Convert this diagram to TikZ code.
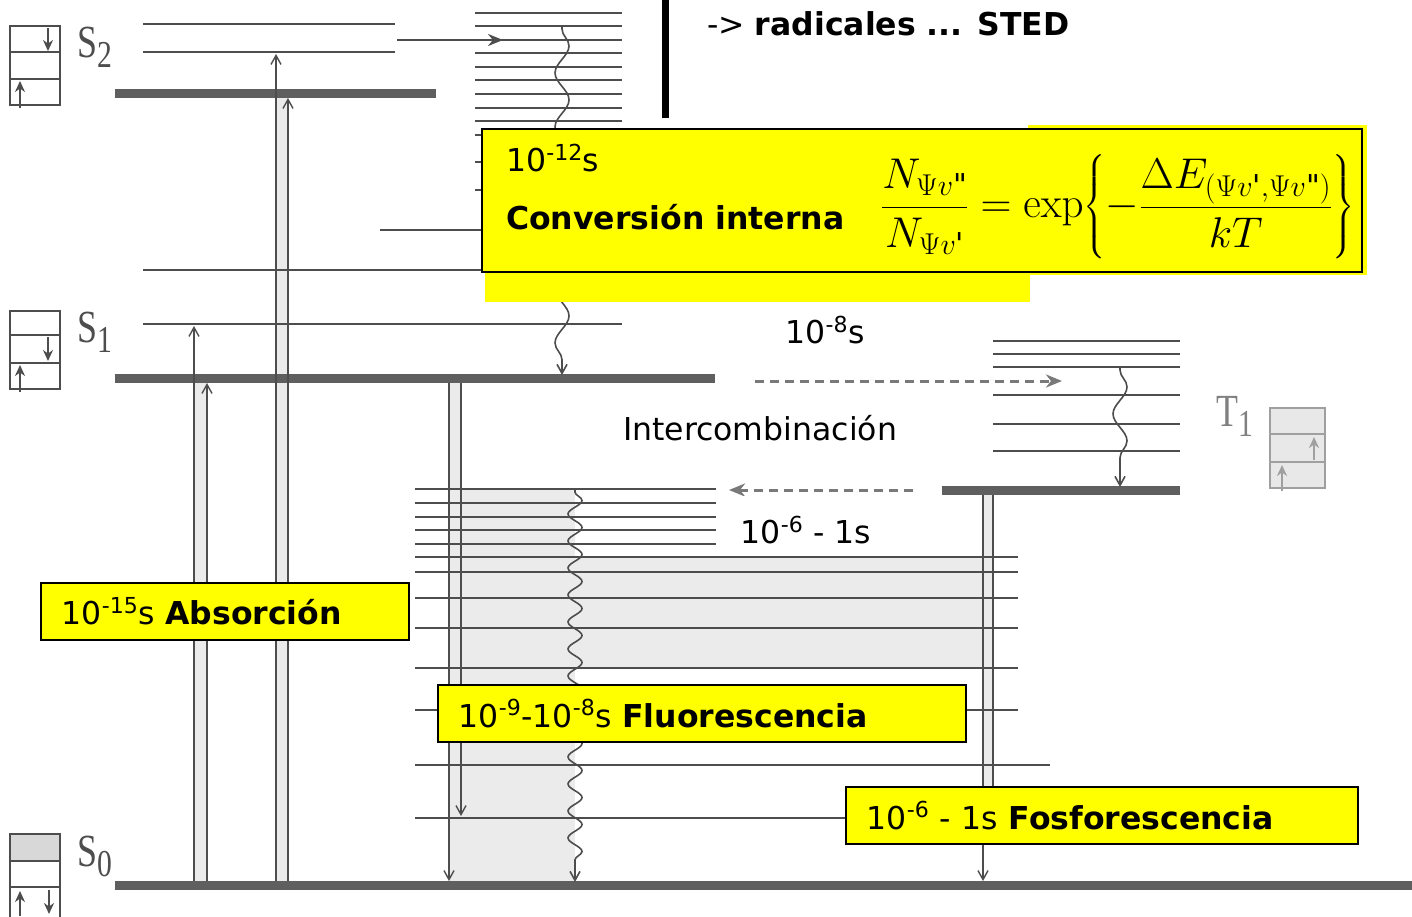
\documentclass[tikz,border=0pt]{standalone}
\usepackage{fix-cm}
\usepackage{amsmath}
\usepackage[no-math]{fontspec}
\setmainfont{DejaVu Sans}
\newfontfamily\serf{Liberation Serif}
\usetikzlibrary{arrows.meta,decorations.pathmorphing}
\definecolor{ink}{HTML}{4D4D4D}
\definecolor{bandgrey}{HTML}{EBEBEB}
\definecolor{hilite}{HTML}{FFFF00}
\newcommand{\state}[2]{\scalebox{0.78}[1]{\serf\fontsize{46}{46}\selectfont #1\raisebox{-10pt}{\fontsize{38}{38}\selectfont #2}}}
\tikzset{
  lv/.style={draw=ink,line width=2pt},
  gnd/.style={draw=ink!90,line width=9pt},
  band/.style={fill=bandgrey},
  tr/.style={draw=ink,line width=1.4pt,-{Straight Barb[length=9pt,width=10pt]}},
  wav/.style={draw=ink,line width=1.6pt,-{Straight Barb[length=9pt,width=10pt]},decorate,
    decoration={snake,segment length=#1,amplitude=7pt,pre length=2pt,post length=9pt}},
  wav/.default=27pt,
  isc/.style={draw=ink!75,line width=3pt,dash pattern=on 9pt off 6pt,
    -{Stealth[length=16pt,width=13pt,inset=5pt]}},
  spin/.style={draw=ink,line width=2pt},
  sarr/.style={draw=ink,line width=1.8pt,-{Stealth[length=11pt,width=10pt]}},
  hl/.style={draw=black,fill=hilite,line width=1.8pt,anchor=north west,align=left,
    inner xsep=21pt,inner ysep=0pt,minimum height=57pt,font=\fontsize{31.5}{36}\selectfont},
  txt/.style={font=\fontsize{31.5}{36}\selectfont,inner sep=0pt},
}

\begin{document}
\begin{tikzpicture}[x=1pt,y=-1pt]
  \useasboundingbox (0,0) rectangle (1412,916);
  \fill[white] (0,0) rectangle (1412,916);
  % grey bands of the scan
  \path[band] (194,382) rectangle (207,885);
  \path[band] (276,97) rectangle (288,885);
  \path[band] (449,382) rectangle (461,489);
  \path[band] (449,489) rectangle (575,885);
  \path[band] (575,557) rectangle (985,668);
  \path[band] (983,494) rectangle (993,790);
  % vibrational levels
  \foreach \y in {24,52} \draw[lv] (143,\y) -- (395,\y);
  \foreach \y in {13,26,40,53,67,80,94,108,121,135,162,190} \draw[lv] (475,\y) -- (622,\y);
  \draw[lv] (380,230) -- (482,230);
  \draw[lv] (143,270) -- (482,270);
  \draw[lv] (143,324) -- (622,324);
  \foreach \y in {489,503,517,530,544} \draw[lv] (415,\y) -- (716,\y);
  \foreach \y in {557,572,598,628,668,710} \draw[lv] (415,\y) -- (1018,\y);
  \draw[lv] (415,765) -- (1050,765);
  \draw[lv] (415,818) -- (845,818);
  \foreach \y in {341,354,367,395,424,451} \draw[lv] (993,\y) -- (1180,\y);
  % electronic ground levels
  \draw[gnd] (115,93) -- (436,93);
  \draw[gnd] (115,378) -- (715,378);
  \draw[gnd] (942,490) -- (1180,490);
  \draw[gnd] (115,885) -- (1412,885);
  % radiative transitions
  \draw[tr] (194,881) -- (194,326);
  \draw[tr] (207,881) -- (207,383);
  \draw[tr] (276,881) -- (276,54);
  \draw[tr] (288,881) -- (288,98);
  \draw[tr] (449,383) -- (449,881);
  \draw[tr] (461,383) -- (461,816);
  \draw[tr] (983,495) -- (983,881);
  \draw[draw=ink,line width=1.4pt] (993,495) -- (993,790);
  \draw[draw=ink,line width=2.5pt,-{Stealth[length=15pt,width=12pt]}] (397,40) -- (503,40);
  % non radiative relaxation
  \draw[wav=54pt] (562,27) -- (562,375);
  \draw[wav] (575,490) -- (575,882);
  \draw[wav=54pt] (1120,368) -- (1120,487);
  \draw[isc] (755,381) -- (1062,381);
  \draw[isc] (913,490) -- (729,490);
  % spin boxes
  \draw[spin] (10,26) rectangle (60,105) (10,52) -- (60,52) (10,79) -- (60,79);
  \draw[sarr] (48,28) -- (48,51);
  \draw[sarr] (20,108) -- (20,81);
  \draw[spin] (10,311) rectangle (60,389) (10,335) -- (60,335) (10,363) -- (60,363);
  \draw[sarr] (48,337) -- (48,361);
  \draw[sarr] (20,392) -- (20,365);
  \fill[bandgrey!92!black] (10,834) rectangle (60,861);
  \draw[spin] (10,920) -- (10,834) -- (60,834) -- (60,920) (10,861) -- (60,861) (10,887) -- (60,887);
  \draw[sarr] (20,916) -- (20,891);
  \draw[sarr] (49,890) -- (49,914);
  \draw[spin,draw=gray!75,fill=gray!18] (1270,408) rectangle (1325,488);
  \draw[spin,draw=gray!75] (1270,434) -- (1325,434) (1270,462) -- (1325,462);
  \draw[sarr,draw=gray!75] (1314,460) -- (1314,437);
  \draw[sarr,draw=gray!75] (1282,491) -- (1282,465);
  % state names
  \node[inner sep=0pt,anchor=base west,text=ink] (s2) at (77,57) {\state{S}{2}};
  \node[inner sep=0pt,anchor=base west,text=ink] (s1) at (77,342) {\state{S}{1}};
  \node[inner sep=0pt,anchor=base west,text=ink] (s0) at (77,866) {\state{S}{0}};
  \node[inner sep=0pt,anchor=base west,text=gray] (t1) at (1216,426) {\state{T}{1}};
  % overlay texts
  \fill[black] (662,0) rectangle (669,118);
  \node[txt,anchor=west] (sted) at (707,24) {-> \textbf{radicales ... STED}};
  \fill[hilite] (1028,125) rectangle (1367,275);
  \fill[hilite] (485,265) rectangle (1030,302);
  \draw[draw=black,fill=hilite,line width=1.8pt] (482,129) rectangle (1362,272);
  \node[txt,anchor=west] (t12) at (506,158) {10\textsuperscript{-12}s};
  \node[txt,anchor=west] (ci) at (506,217) {\textbf{Conversión interna}};
  \node[inner sep=0pt,anchor=west] (fml) at (881,207) {\fontsize{43}{50}\selectfont
    $\displaystyle\frac{N_{\Psi v\text{\textquotedbl}}}{N_{\Psi v\text{\textquotesingle}}}
    =\exp\!\left\{-\frac{\Delta E_{(\Psi v\text{\textquotesingle},\Psi v\text{\textquotedbl})}}{kT}\right\}$};
  \node[txt] (t8) at (825,330) {10\textsuperscript{-8}s};
  \node[txt] (inter) at (760,428) {Intercombinación};
  \fill[white] (716,496) rectangle (957,555);
  \node[txt] (t6) at (806,530) {10\textsuperscript{-6} - 1s};
  \node[hl,minimum width=368pt,text width=326pt] (abs) at (40,582)
    {10\textsuperscript{-15}s \textbf{Absorción}};
  \node[hl,minimum width=528pt,text width=486pt] (flu) at (437,684)
    {10\textsuperscript{-9}-10\textsuperscript{-8}s \textbf{Fluorescencia}};
  \node[hl,minimum width=512pt,text width=470pt] (fos) at (845,786)
    {10\textsuperscript{-6} - 1s \textbf{Fosforescencia}};
\end{tikzpicture}
\end{document}
